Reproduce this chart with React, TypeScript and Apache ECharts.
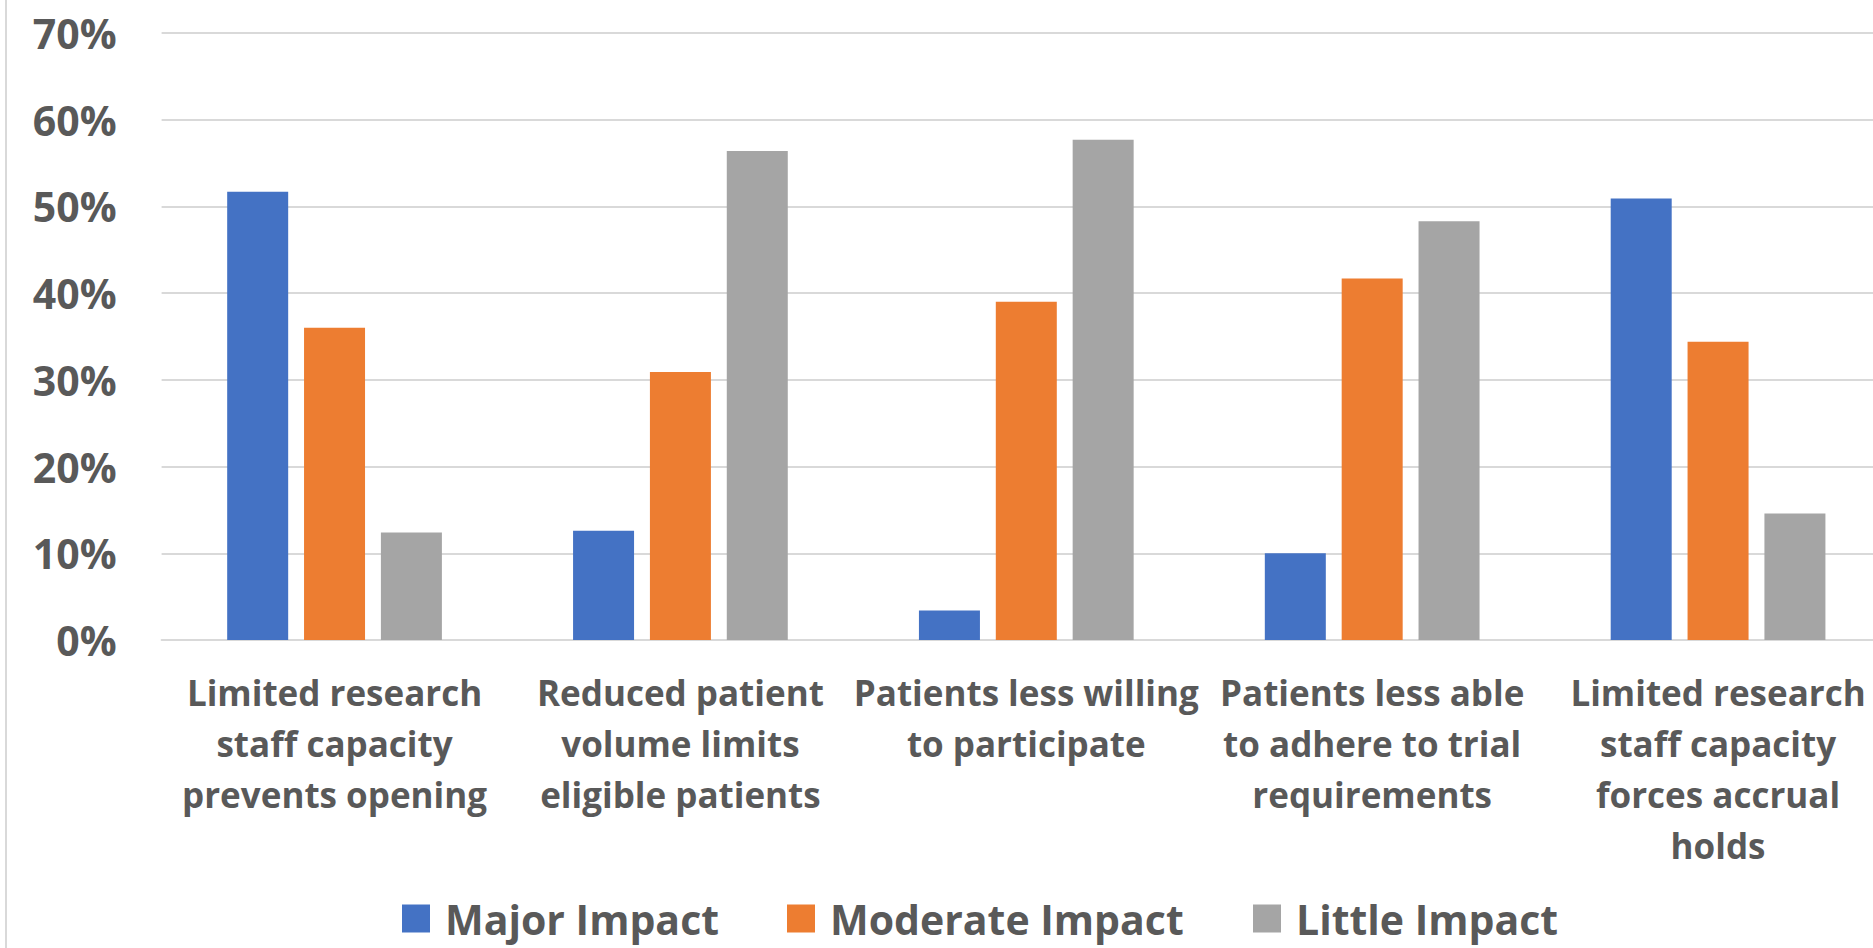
import React, { useEffect, useRef } from "react";
import * as echarts from "echarts";

const categories = [
  "Limited research\nstaff capacity\nprevents opening",
  "Reduced patient\nvolume limits\neligible patients",
  "Patients less willing\nto participate",
  "Patients less able\nto adhere to trial\nrequirements",
  "Limited research\nstaff capacity\nforces accrual\nholds",
];
const seriesNames = ["Major Impact", "Moderate Impact", "Little Impact"];
const majorImpact = [51.7, 12.6, 3.4, 10.0, 50.9];
const moderateImpact = [36.0, 30.9, 39.0, 41.7, 34.4];
const littleImpact = [12.4, 56.4, 57.7, 48.3, 14.6];
const colors = ["#4472C4", "#ED7D31", "#A5A5A5"];
const yMin = 0;
const yMax = 70;
const yInterval = 10;

const FONT = "'Open Sans', 'Noto Sans', sans-serif";
const TEXT = "#595959";

export default function App() {
  const ref = useRef<HTMLDivElement>(null);
  useEffect(() => {
    if (!ref.current) return;
    const chart = echarts.init(ref.current, undefined, { renderer: "svg" });
    const values = [majorImpact, moderateImpact, littleImpact];
    const legendLefts = [402, 787, 1253];
    chart.setOption({
      animation: false,
      backgroundColor: "#ffffff",
      textStyle: { fontFamily: FONT },
      grid: { left: 161.6, right: 0, top: 33, bottom: 308, containLabel: false },
      legend: seriesNames.map((n, i) => ({
        data: [n],
        left: legendLefts[i],
        top: 898,
        padding: 0,
        itemWidth: 28,
        itemHeight: 28,
        icon: "rect",
        textStyle: {
          fontFamily: FONT,
          fontSize: 41,
          lineHeight: 41,
          fontWeight: "bold",
          color: TEXT,
          padding: [0, 0, 0, 10],
        },
      })),
      xAxis: {
        type: "category",
        data: categories,
        axisLine: { show: true, lineStyle: { color: "#D9D9D9", width: 2 } },
        axisTick: { show: false },
        axisLabel: {
          interval: 0,
          margin: 27,
          fontFamily: FONT,
          fontSize: 35,
          fontWeight: "bold",
          lineHeight: 51,
          color: TEXT,
          align: "center",
        },
      },
      yAxis: {
        type: "value",
        min: yMin,
        max: yMax,
        interval: yInterval,
        axisLine: { show: false },
        axisTick: { show: false },
        splitLine: { lineStyle: { color: "#D9D9D9", width: 2 } },
        axisLabel: {
          margin: 45,
          fontFamily: FONT,
          fontSize: 41,
          fontWeight: "bold",
          color: TEXT,
          formatter: "{value}%",
        },
      },
      series: seriesNames.map((n, i) => ({
        name: n,
        type: "bar",
        data: values[i],
        barWidth: 61,
        barGap: "26%",
        itemStyle: { color: colors[i] },
      })),
      graphic: [
        {
          type: "line",
          shape: { x1: 6, y1: 0, x2: 6, y2: 948 },
          style: { stroke: "#D9D9D9", lineWidth: 2 },
        },
      ],
    });
    return () => chart.dispose();
  }, []);
  return (
    <div
      style={{
        position: "fixed",
        left: 0,
        top: 0,
        width: 1873,
        height: 948,
        overflow: "hidden",
        background: "#fff",
      }}
    >
      <div ref={ref} style={{ position: "absolute", left: 0, top: 0, width: 1891, height: 948 }} />
    </div>
  );
}
